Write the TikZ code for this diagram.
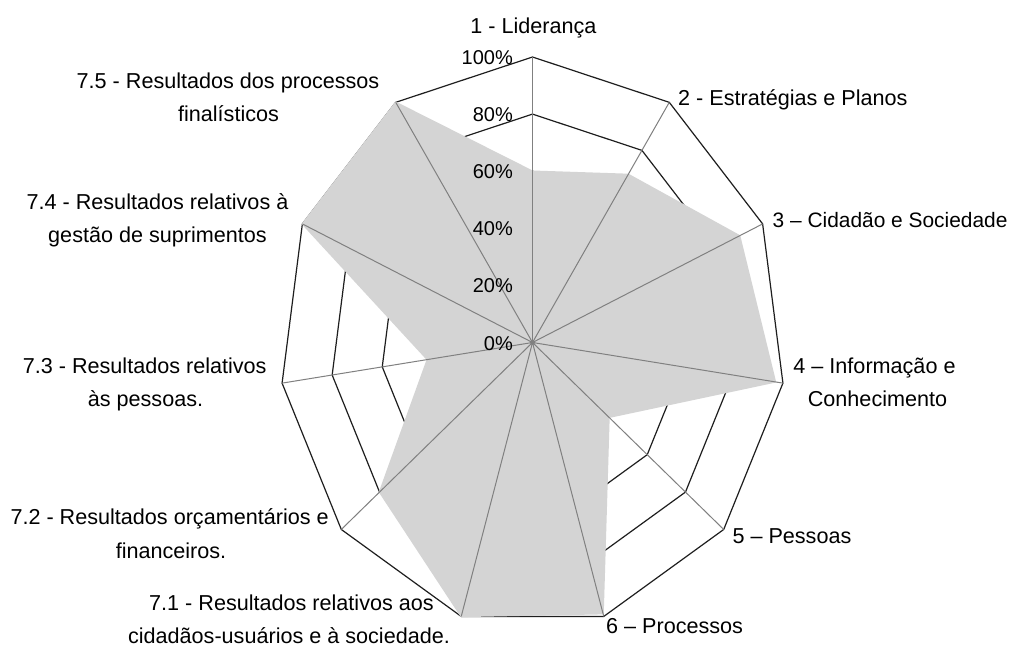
\documentclass[tikz,border=0pt]{standalone}
\usepackage{fontspec}
\setmainfont{Liberation Sans}
\usetikzlibrary{calc}
\definecolor{fillg}{RGB}{212,212,212}
\definecolor{spokeg}{RGB}{128,128,128}
\definecolor{gridk}{RGB}{30,30,30}
\begin{document}
\begin{tikzpicture}[x=1pt,y=-1pt,
  gridline/.style={draw=gridk,line width=1.2pt,line join=miter},
  spoke/.style={draw=spokeg,line width=1pt},
  datafill/.style={fill=fillg,draw=fillg,line width=1.4pt,line join=miter},
  axlab/.style={inner sep=0pt,font=\fontsize{21.6}{33}\selectfont,text=black},
  ticklab/.style={inner sep=0pt,anchor=base east,font=\fontsize{20}{24}\selectfont,text=black}]
\useasboundingbox (0,0) rectangle (1011,650);
\fill[white] (0,0) rectangle (1011,650);
\coordinate (o) at (532.5,342.5);
\foreach \i in {0,...,10}{
  \coordinate (v\i) at ({532.5+253*sin(\i*360/11)},{342.5-285.5*cos(\i*360/11)});
}
% grid rings
\foreach \r in {0.2,0.4,0.6,0.8,1}{
  \draw[gridline] ($(o)!\r!(v0)$) -- ($(o)!\r!(v1)$) -- ($(o)!\r!(v2)$) -- ($(o)!\r!(v3)$)
    -- ($(o)!\r!(v4)$) -- ($(o)!\r!(v5)$) -- ($(o)!\r!(v6)$) -- ($(o)!\r!(v7)$)
    -- ($(o)!\r!(v8)$) -- ($(o)!\r!(v9)$) -- ($(o)!\r!(v10)$) -- cycle;
}
% data
\foreach \v [count=\i from 0] in {0.6,0.7,0.9,0.97,0.4,0.99,1,0.8,0.42,1,1}{
  \coordinate (d\i) at ($(o)!\v!(v\i)$);
}
\filldraw[datafill] (d0) -- (d1) -- (d2) -- (d3) -- (d4) -- (d5) -- (d6) -- (d7) -- (d8) -- (d9) -- (d10) -- cycle;
% spokes
\foreach \i in {0,...,10}{
  \draw[spoke] (o) -- (v\i);
}
\fill[spokeg] (o) circle (2.5pt);
% tick labels
\foreach \k/\t in {0/0,1/20,2/40,3/60,4/80,5/100}{
  \node[ticklab] (t\k) at (513,{342.5-57.1*\k+7.5}) {\t\%};
}
% axis labels
\node[axlab,anchor=base] (l1) at (533.5,33.3) {1 - Liderança};
\node[axlab,anchor=base west] (l2) at (678,106) {2 - Estratégias e Planos};
\node[axlab,anchor=base west,font=\fontsize{20.9}{33}\selectfont] (l3) at (772.5,227.5) {3 – Cidadão e Sociedade};
\node[axlab,anchor=base] (l4a) at (874.5,373.3) {4 – Informação e};
\node[axlab,anchor=base] (l4b) at (877.5,406.7) {Conhecimento};
\node[axlab,anchor=base west] (l5) at (732.3,543.3) {5 – Pessoas};
\node[axlab,anchor=base west] (l6) at (606,633.3) {6 – Processos};
\node[axlab,anchor=base] (l75a) at (228,88.3) {7.5 - Resultados dos processos};
\node[axlab,anchor=base] (l75b) at (228.5,121.7) {finalísticos};
\node[axlab,anchor=base] (l74a) at (157.5,209) {7.4 - Resultados relativos à};
\node[axlab,anchor=base] (l74b) at (157.5,242) {gestão de suprimentos};
\node[axlab,anchor=base] (l73a) at (144.7,373.3) {7.3 - Resultados relativos};
\node[axlab,anchor=base] (l73b) at (145.5,406.7) {às pessoas.};
\node[axlab,anchor=base] (l72a) at (169.6,524.5) {7.2 - Resultados orçamentários e};
\node[axlab,anchor=base] (l72b) at (171,558) {financeiros.};
\node[axlab,anchor=base] (l71a) at (291.5,610) {7.1 - Resultados relativos aos};
\node[axlab,anchor=base] (l71b) at (289,643.3) {cidadãos-usuários e à sociedade.};
\end{tikzpicture}
\end{document}
